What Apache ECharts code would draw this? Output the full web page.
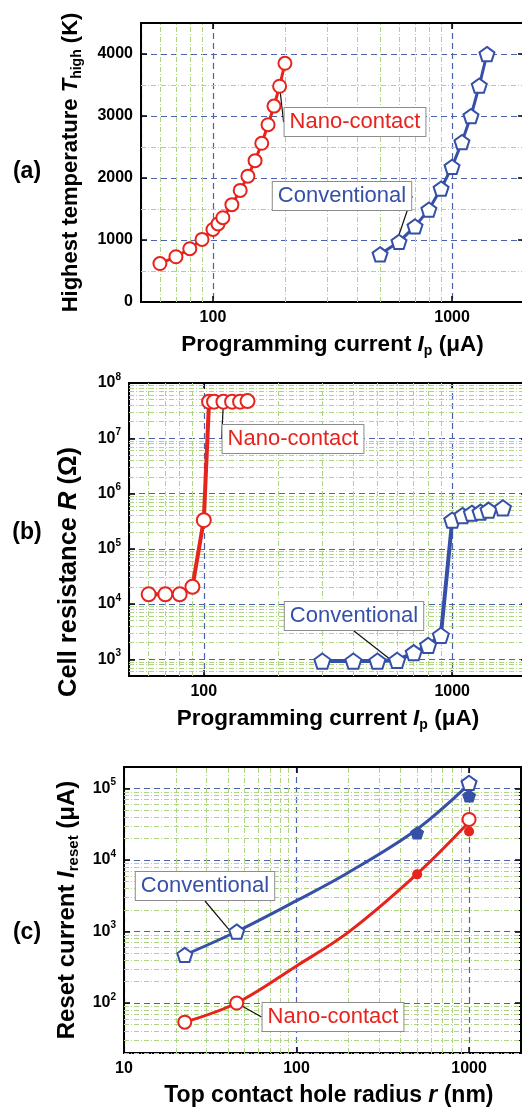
<!DOCTYPE html>
<html>
<head>
<meta charset="utf-8">
<script src="https://cdn.jsdelivr.net/npm/echarts@6/dist/echarts.min.js"></script>
<style>
html, body { margin: 0; padding: 0; background: #fff; overflow: hidden; }
#main { width: 522px; height: 1107px; }
</style>
</head>
<body>
<div id="main"></div>
<script>
// (a) highest temperature vs programming current
const nanoCurrentA = [60, 70, 80, 90, 100, 105, 110, 120, 130, 140, 150, 160, 170, 180, 190, 200]
const nanoTempA = [620, 730, 860, 1010, 1170, 1260, 1360, 1570, 1800, 2030, 2280, 2560, 2860, 3160, 3480, 3850]
const convCurrentA = [500, 600, 700, 800, 900, 1000, 1100, 1200, 1300, 1400]
const convTempA = [770, 970, 1220, 1490, 1830, 2180, 2580, 3000, 3490, 4000]

// (b) cell resistance vs programming current
const nanoCurrentB = [60, 70, 80, 90, 100, 105, 110, 120, 130, 140, 150]
const nanoResB = [1.5e4, 1.5e4, 1.5e4, 2.05e4, 3.3e5, 4.6e7, 4.6e7, 4.6e7, 4.6e7, 4.6e7, 4.7e7]
const convCurrentB = [300, 400, 500, 600, 700, 800, 900, 1000, 1100, 1200, 1300, 1400, 1600]
const convResB = [930, 930, 930, 960, 1320, 1790, 2720, 3.3e5, 4.0e5, 4.4e5, 4.6e5, 5.0e5, 5.5e5]

// (c) reset current vs top contact hole radius
const radiusSim = [22.5, 45, 1000]
const convResetSim = [470, 1000, 1.2e5]
const nanoResetSim = [54, 100, 3.7e4]
const radiusExp = [500, 1000]
const convResetExp = [2.4e4, 7.9e4]
const nanoResetExp = [6300, 2.5e4]
const radiusFit = [22.5, 45, 100, 200, 500, 1000]
const convResetFit = [470, 1000, 2700, 6700, 2.7e4, 1.15e5]
const nanoResetFit = [54, 100, 330, 980, 6400, 3.4e4]

// minor grid positions
const minorCurrent = [60, 70, 80, 90, 200, 300, 400, 500, 600, 700, 800, 900]
const minorTemp = [500, 1500, 2500, 3500]
const minorRadius = [20, 30, 40, 50, 60, 70, 80, 90, 200, 300, 400, 500, 600, 700, 800, 900]

const RED = '#e6231d'
const BLUE = '#3550a6'
const MAJOR = '#4d62ad'
const MINOR = '#afd584'
const FONT = '"Liberation Sans", Arial, Helvetica, sans-serif'
const PENTAGON = 'path://M50,0L97.55,34.55L79.39,90.45L20.61,90.45L2.45,34.55Z'
const SP = n => '\u00a0'.repeat(n)
const LOG_MINOR = { show: true, splitNumber: 9, length: 3, lineStyle: { color: '#000', width: 1 } }

function zip(xs, ys) {
    return xs.map((x, i) => [x, ys[i]])
}

function decadeSteps(fromExp, toExp, first) {
    let out = []
    for (let n = fromExp; n <= toExp; n++) {
        for (let k = 2; k <= 9; k++) {
            let v = k * Math.pow(10, n)
            if (v >= first) out.push(v)
        }
    }
    return out
}

function isPow10(v) {
    let e = Math.log10(v)
    return Math.abs(e - Math.round(e)) < 1e-6
}

const plainDecade = v => isPow10(v) ? String(Math.round(v)) : ''
const supDecade = v => isPow10(v) ? '{b|10}{s|' + Math.round(Math.log10(v)) + '}' : ''
const plainNumber = v => String(v)

const tickLabel = {
    color: '#000', fontSize: 16, fontWeight: 'bold', fontFamily: FONT, margin: 8,
    rich: {
        b: { fontSize: 16, fontWeight: 'bold', fontFamily: FONT, color: '#000', lineHeight: 22 },
        s: { fontSize: 10, fontWeight: 'bold', fontFamily: FONT, color: '#000', verticalAlign: 'top', lineHeight: 10 }
    }
}

function nameStyle(size) {
    return {
        fontFamily: FONT, fontWeight: 'bold', fontSize: size, color: '#000',
        rich: {
            t: { fontSize: size, fontWeight: 'bold', fontFamily: FONT, color: '#000', lineHeight: size + 5 },
            i: { fontSize: size, fontWeight: 'bold', fontStyle: 'italic', fontFamily: FONT, color: '#000', lineHeight: size + 5 },
            s: { fontSize: Math.round(size * 0.62), fontWeight: 'bold', fontFamily: FONT, color: '#000', verticalAlign: 'bottom', lineHeight: 13 }
        }
    }
}

function axis(g, type, min, max, name, gap, size, formatter, extra) {
    return Object.assign({
        gridIndex: g,
        type: type,
        min: min,
        max: max,
        name: name,
        nameLocation: 'middle',
        nameGap: gap,
        nameTextStyle: nameStyle(size),
        axisLine: { show: true, onZero: false, lineStyle: { color: '#000', width: 2 } },
        axisTick: { show: true, inside: true, length: 6, lineStyle: { color: '#000', width: 1.5 } },
        axisLabel: Object.assign({}, tickLabel, { formatter: formatter }),
        splitLine: { show: true, lineStyle: { color: MAJOR, width: 1.2, type: [6, 4] } }
    }, extra || {})
}

// frame side opposite an axis: same scale, ticks only
function mirror(g, type, min, max, position, extra) {
    return Object.assign({
        gridIndex: g, type: type, min: min, max: max, position: position,
        axisLine: { show: true, onZero: false, lineStyle: { color: '#000', width: 2 } },
        axisTick: { show: true, inside: true, length: 6, lineStyle: { color: '#000', width: 1.5 } },
        axisLabel: { show: false },
        splitLine: { show: false }
    }, extra || {})
}

function minorGrid(g, xs, ys) {
    return {
        type: 'line', xAxisIndex: g, yAxisIndex: g, data: [], z: 0, silent: true,
        markLine: {
            silent: true, symbol: ['none', 'none'], label: { show: false },
            lineStyle: { color: MINOR, width: 1, type: [5, 2, 1, 2] },
            emphasis: { disabled: true },
            data: xs.map(v => ({ xAxis: v })).concat(ys.map(v => ({ yAxis: v })))
        }
    }
}

// data lines and markers sit on their own layer above the grid lines
function curve(g, xs, ys, color, symbol, size, width, smooth) {
    return {
        type: 'line', xAxisIndex: g, yAxisIndex: g,
        data: zip(xs, ys),
        symbol: symbol, symbolSize: size, symbolKeepAspect: true, showAllSymbol: true,
        smooth: smooth || false,
        lineStyle: { color: color, width: width },
        itemStyle: { color: '#fff', borderColor: color, borderWidth: 2, opacity: 1 },
        zlevel: 1,
        z: 3
    }
}

function dots(g, xs, ys, color, symbol, size, filled) {
    return {
        type: 'scatter', xAxisIndex: g, yAxisIndex: g,
        data: zip(xs, ys),
        symbol: symbol, symbolSize: size, symbolKeepAspect: true,
        itemStyle: filled ? { color: color, opacity: 1 } : { color: '#fff', borderColor: color, borderWidth: 2, opacity: 1 },
        zlevel: 1,
        z: filled ? 5 : 4
    }
}

// callout box tied to one data point, centred dx/dy away from it with a leader line
function note(series, index, text, color, dx, dy) {
    series.data[index] = {
        value: series.data[index],
        label: {
            show: true, position: 'inside', formatter: text,
            color: color, fontSize: 22, fontFamily: FONT, lineHeight: 24,
            textBorderColor: 'transparent', textBorderWidth: 0, textShadowBlur: 0,
            backgroundColor: '#fff', borderColor: '#8c8c8c', borderWidth: 1,
            padding: [3, 5, 1, 5]
        }
    }
    series.labelLine = { show: true, lineStyle: { color: '#111', width: 1.2 } }
    series.labelLayout = p => p.dataIndex === index ? {
        x: Math.round(p.rect.x + p.rect.width / 2 + dx),
        y: Math.round(p.rect.y + p.rect.height / 2 + dy),
        align: 'center', verticalAlign: 'middle'
    } : {}
    return series
}

let nanoA = note(curve(0, nanoCurrentA, nanoTempA, RED, 'circle', 13, 3), 14, 'Nano-contact', RED, 75, 36)
let convA = note(curve(0, convCurrentA, convTempA, BLUE, PENTAGON, 15, 3), 1, 'Conventional', BLUE, -57, -46)
let nanoB = note(curve(1, nanoCurrentB, nanoResB, RED, 'circle', 14, 4), 7, 'Nano-contact', RED, 70, 37)
let convB = note(curve(1, convCurrentB, convResB, BLUE, PENTAGON, 16, 4), 3, 'Conventional', BLUE, -43, -44)
let convSimC = note(dots(2, radiusSim, convResetSim, BLUE, PENTAGON, 15, false), 1, 'Conventional', BLUE, -32, -46)
let nanoSimC = note(dots(2, radiusSim, nanoResetSim, RED, 'circle', 13, false), 1, 'Nano-contact', RED, 96, 14)

let option = {
    animation: false,
    backgroundColor: '#fff',
    grid: [
        { left: 141, top: 23, width: 383, height: 279, show: true, borderColor: '#000', borderWidth: 2, outerBoundsMode: 'none' },
        { left: 129, top: 383, width: 398, height: 293, show: true, borderColor: '#000', borderWidth: 2, outerBoundsMode: 'none' },
        { left: 124, top: 767, width: 397, height: 286, show: true, borderColor: '#000', borderWidth: 2, outerBoundsMode: 'none' }
    ],
    xAxis: [
        axis(0, 'log', 50, 2000, '{t|Programming current }{i|I}{s|p}{t| (μA)}', 29, 22.5, plainDecade),
        axis(1, 'log', 50, 2000, '{t|Programming current }{i|I}{s|p}{t| (μA)}', 29, 22.5, plainDecade),
        axis(2, 'log', 10, 2000, '{t|' + SP(2) + 'Top contact hole radius }{i|r}{t| (nm)}', 29, 23, plainDecade),
        mirror(0, 'log', 50, 2000, 'top'),
        mirror(1, 'log', 50, 2000, 'top'),
        mirror(2, 'log', 10, 2000, 'top')
    ],
    yAxis: [
        axis(0, 'value', 0, 4500, '{t|Highest temperature }{i|T}{s|high}{t| (K)}', 57, 22, plainNumber,
            { interval: 1000, axisLabel: Object.assign({}, tickLabel, { formatter: plainNumber, showMaxLabel: false }) }),
        axis(1, 'log', 500, 1e8, '{t|Cell resistance }{i|R}{t| (Ω)' + SP(12) + '}', 45, 25.5, supDecade, { minorTick: LOG_MINOR }),
        axis(2, 'log', 20, 2e5, '{t|Reset current }{i|I}{s|reset}{t| (μA)}', 41, 24, supDecade, { minorTick: LOG_MINOR }),
        mirror(0, 'value', 0, 4500, 'right', { interval: 1000 }),
        mirror(1, 'log', 500, 1e8, 'right', { minorTick: LOG_MINOR }),
        mirror(2, 'log', 20, 2e5, 'right', { minorTick: LOG_MINOR })
    ],
    graphic: [
        { type: 'text', x: 27, y: 172, style: { text: '(a)', align: 'center', verticalAlign: 'middle', fontSize: 23, fontWeight: 'bold', fontFamily: FONT, fill: '#000' } },
        { type: 'text', x: 27, y: 533, style: { text: '(b)', align: 'center', verticalAlign: 'middle', fontSize: 23, fontWeight: 'bold', fontFamily: FONT, fill: '#000' } },
        { type: 'text', x: 27, y: 933, style: { text: '(c)', align: 'center', verticalAlign: 'middle', fontSize: 23, fontWeight: 'bold', fontFamily: FONT, fill: '#000' } }
    ],
    series: [
        minorGrid(0, minorCurrent, minorTemp),
        minorGrid(1, minorCurrent, decadeSteps(2, 7, 600)),
        minorGrid(2, minorRadius, decadeSteps(1, 4, 20)),
        nanoA, convA, nanoB, convB,
        curve(2, radiusFit, convResetFit, BLUE, 'none', 0, 3, 0.35),
        curve(2, radiusFit, nanoResetFit, RED, 'none', 0, 3, 0.35),
        dots(2, radiusExp, convResetExp, BLUE, PENTAGON, 14, true),
        dots(2, radiusExp, nanoResetExp, RED, 'circle', 10, true),
        convSimC, nanoSimC
    ]
}

let myChart = echarts.init(document.getElementById('main'))
myChart.setOption(option)
</script>
</body>
</html>
